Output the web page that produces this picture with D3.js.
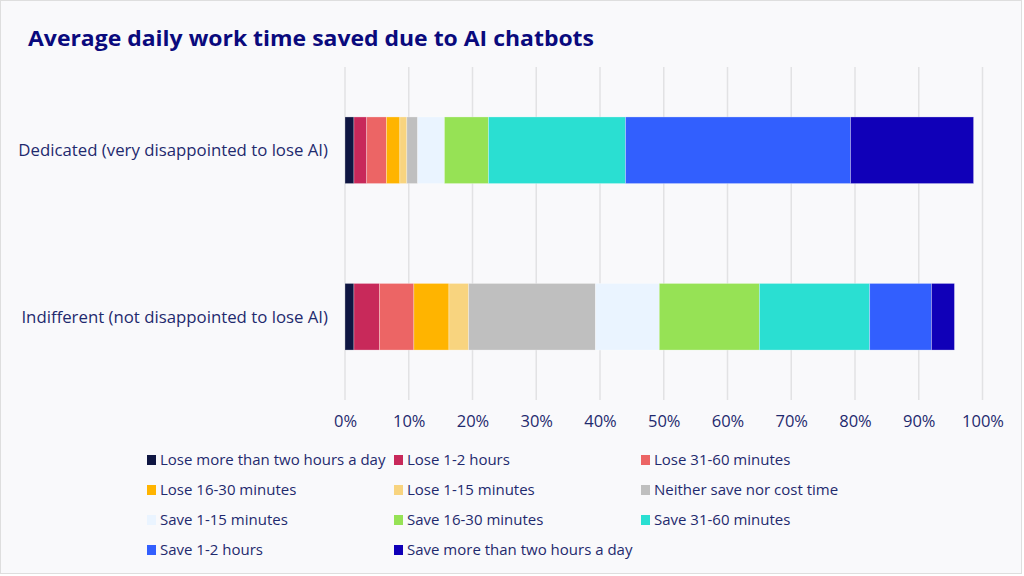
<!DOCTYPE html>
<html>
<head>
<meta charset="utf-8">
<script src="https://cdn.jsdelivr.net/npm/d3@7"></script>
<style>
  html, body { margin: 0; padding: 0; background: #ffffff; }
  svg { display: block; font-family: "Open Sans", sans-serif; }
</style>
</head>
<body>
<svg id="chart"></svg>
<script>
const groups = ['Dedicated (very disappointed to lose AI)', 'Indifferent (not disappointed to lose AI)'];
const categories = [
  'Lose more than two hours a day', 'Lose 1-2 hours', 'Lose 31-60 minutes',
  'Lose 16-30 minutes', 'Lose 1-15 minutes', 'Neither save nor cost time',
  'Save 1-15 minutes', 'Save 16-30 minutes', 'Save 31-60 minutes',
  'Save 1-2 hours', 'Save more than two hours a day'
];
const dedicated = [1.4, 2.0, 3.1, 2.1, 1.1, 1.7, 4.2, 6.9, 21.5, 35.3, 19.3];
const indifferent = [1.4, 4.0, 5.4, 5.5, 3.1, 19.9, 10.0, 15.7, 17.3, 9.7, 3.6];
const colors = ['#0f1642', '#c8295a', '#ec6565', '#ffb400', '#f8d47f', '#bfbfbf',
                '#eaf4ff', '#96e255', '#2adfd2', '#325ffe', '#1000b8'];
const ticks = [0, 10, 20, 30, 40, 50, 60, 70, 80, 90, 100];

const W = 1024, H = 576;
const svg = d3.select('#chart').attr('width', W).attr('height', H);

// card
svg.append('rect').attr('x', 0.5).attr('y', 0.5).attr('width', W - 3).attr('height', H - 3)
  .attr('fill', '#f9f9fb').attr('stroke', '#dedede');

svg.append('text').attr('x', 28).attr('y', 46)
  .attr('fill', '#0a0a7d').attr('font-size', 21.5).attr('font-weight', 700)
  .attr('textLength', 566).attr('lengthAdjust', 'spacingAndGlyphs')
  .text('Average daily work time saved due to AI chatbots');

const x = d3.scaleLinear().domain([0, 100]).range([345, 982.5]);
const y = d3.scaleBand().domain(groups).range([67, 400]).paddingInner(0.6).paddingOuter(0.3);

// grid
svg.append('g').selectAll('line').data(ticks).join('line')
  .attr('x1', d => x(d)).attr('x2', d => x(d))
  .attr('y1', 67).attr('y2', 400)
  .attr('stroke', '#e2e2e4').attr('stroke-width', 1.5);

// stacked rows
const rows = [dedicated, indifferent];
rows.forEach((vals, i) => {
  let acc = 0;
  const segs = vals.map((v, j) => { const s = { x0: acc, x1: acc + v, c: colors[j] }; acc += v; return s; });
  svg.append('g').selectAll('rect').data(segs).join('rect')
    .attr('x', d => x(d.x0))
    .attr('y', y(groups[i]))
    .attr('width', d => x(d.x1) - x(d.x0))
    .attr('height', y.bandwidth())
    .attr('fill', d => d.c)
    .attr('stroke', 'rgba(255,255,255,0.35)').attr('stroke-width', 0.8);
});

// y labels
svg.append('g').selectAll('text').data(groups).join('text')
  .attr('x', 328).attr('y', d => y(d) + y.bandwidth() / 2)
  .attr('dy', '0.35em').attr('text-anchor', 'end')
  .attr('fill', '#1f2a6e').attr('font-size', 16.8)
  .text(d => d);

// x axis
const xAxis = svg.append('g').attr('transform', 'translate(0,400)')
  .call(d3.axisBottom(x).tickValues(ticks).tickFormat(d => d + '%').tickSize(0).tickPadding(15));
xAxis.select('.domain').remove();
xAxis.selectAll('text').attr('fill', '#1f2a6e').attr('font-size', 16.5)
  .attr('font-family', '"Open Sans", sans-serif');

// legend
const colX = [147, 394, 641];
const legend = svg.append('g').selectAll('g').data(categories).join('g')
  .attr('transform', (d, i) => `translate(${colX[i % 3]},${460 + Math.floor(i / 3) * 30})`);
legend.append('rect').attr('x', 0).attr('y', -5).attr('width', 9).attr('height', 10)
  .attr('fill', (d, i) => colors[i]);
legend.append('text').attr('x', 13).attr('dy', '0.35em')
  .attr('fill', '#1f2a6e').attr('font-size', 15).text(d => d);
</script>
</body>
</html>
